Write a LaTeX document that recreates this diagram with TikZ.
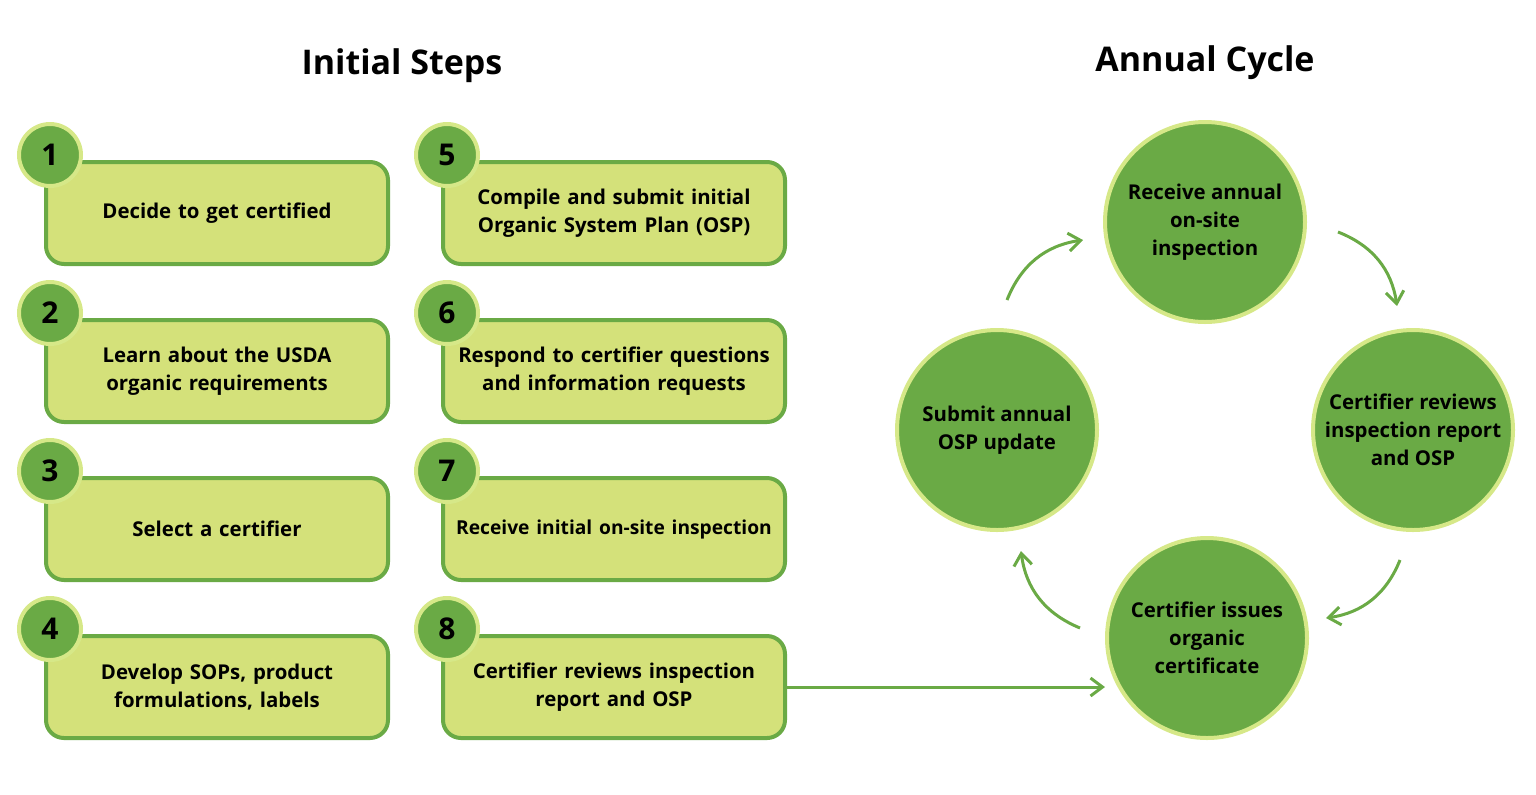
\documentclass[tikz,border=0pt]{standalone}
\usepackage{fontspec}
\setmainfont{Open Sans}
\usetikzlibrary{arrows.meta}
\definecolor{dg}{HTML}{6AAA45}
\definecolor{lg}{HTML}{D4E17A}
\definecolor{rim}{HTML}{D6E888}
\begin{document}
\begin{tikzpicture}[x=0.5pt,y=-0.5pt,
 box/.style={draw=dg,line width=2pt,fill=lg,rounded corners=9pt,text width=167pt,inner xsep=2pt,minimum height=51pt,align=center,font=\fontsize{10.2}{14}\selectfont\bfseries},
 num/.style={circle,draw=rim,line width=2pt,fill=dg,minimum size=31pt,inner sep=0pt,font=\fontsize{15}{15}\selectfont\bfseries},
 big/.style={circle,draw=rim,line width=2pt,fill=dg,minimum size=100pt,inner sep=0pt,align=center,font=\fontsize{10.2}{14}\selectfont\bfseries},
 arr/.style={draw=dg,line width=1.5pt,-{Straight Barb[length=6pt,width=9pt]}}]
\useasboundingbox (0,0) rectangle (1536,794);
\node[font=\fontsize{17}{17}\selectfont\bfseries] (t1) at (402,66) {Initial Steps};
\node[font=\fontsize{17}{17}\selectfont\bfseries] (t2) at (1205,63) {Annual Cycle};
\foreach \n/\x/\y/\t in {
 1/217/213/{Decide to get certified},
 2/217/371/{Learn about the USDA\\organic requirements},
 3/217/529/{Select a certifier},
 4/217/687/{Develop SOPs, product\\formulations, labels},
 5/614/213/{Compile and submit initial\\Organic System Plan (OSP)},
 6/614/371/{Respond to certifier questions\\and information requests},
 7/614/529/{\mbox{\fontsize{9.6}{14}\selectfont Receive initial on-site inspection}},
 8/614/687/{Certifier reviews inspection\\report and OSP}}{
 \node[box] (b\n) at (\x,\y) {\t};
 \node[num] (n\n) at (\x-167,\y-58) {\n};
}
\node[big] (c1) at (1205,222) {Receive annual\\on-site\\inspection};
\node[big] (c2) at (1413,430) {Certifier reviews\\inspection report\\and OSP};
\node[big] (c3) at (1207,638) {Certifier issues\\organic\\certificate};
\node[big] (c4) at (997,430) {Submit annual\\OSP update};
\draw[arr] (b8.east) -- (c3.west |- b8.east);
\coordinate (a1) at (1007,300); \coordinate (a2) at (1083,240);
\coordinate (a3) at (1338,232); \coordinate (a4) at (1397,306);
\coordinate (a5) at (1400,560); \coordinate (a6) at (1326,618);
\coordinate (a7) at (1080,628); \coordinate (a8) at (1021,551);
\draw[arr] (a1) to[bend left=30] (a2);
\draw[arr] (a3) to[bend left=30] (a4);
\draw[arr] (a5) to[bend left=30] (a6);
\draw[arr] (a7) to[bend left=30] (a8);
\end{tikzpicture}
\end{document}
